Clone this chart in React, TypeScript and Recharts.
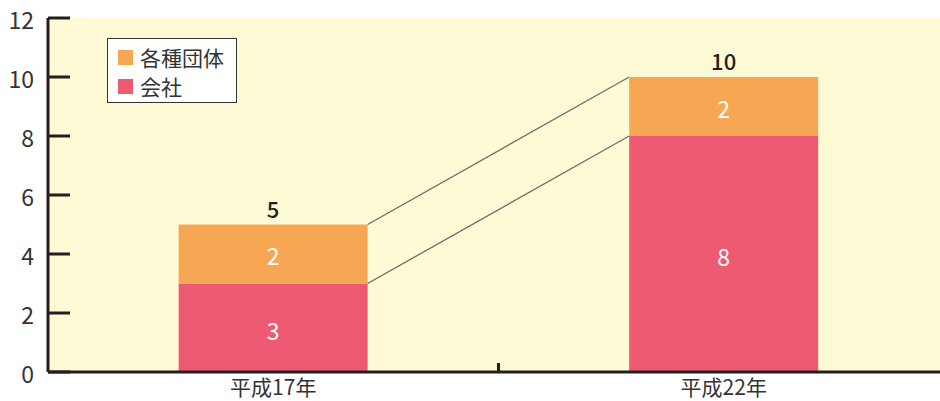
import React from 'react';
import { BarChart, Bar, XAxis, YAxis, CartesianGrid, Legend, LabelList } from 'recharts';

const years = ['平成17年', '平成22年'];
const companies = [3, 8];
const groups = [2, 2];
const totals = [5, 10];
const yTicks = [0, 2, 4, 6, 8, 10, 12];

const CHART_W = 949;
const CHART_H = 401;
const Y_AXIS_W = 48;
const FONT = '"Noto Sans CJK JP", "Noto Sans", sans-serif';
const INK = '#231f20';
const PINK = '#ef5a73';
const ORANGE = '#f7a754';

const data = years.map((year, i) => ({
  year,
  company: companies[i],
  group: groups[i],
  total: totals[i],
}));

// remember each bar's rect so the next bar can draw a connector back to it
const rects: Record<string, { x: number; y: number; w: number }[]> = {};
const makeShape = (key: string, fill: string) => (props: any) => {
  const { x, y, width, height, index } = props;
  const list = (rects[key] = rects[key] || []);
  list[index] = { x, y, w: width };
  const prev = index > 0 ? list[index - 1] : null;
  return (
    <g>
      <rect x={x} y={y} width={width} height={height} fill={fill} />
      {prev && (
        <line x1={prev.x + prev.w} y1={prev.y} x2={x} y2={y} stroke="#6b6b6b" strokeWidth={1.3} />
      )}
    </g>
  );
};

const YTick = (props: any) => {
  const { x, y, payload } = props;
  return (
    <g>
      <line x1={x} y1={y} x2={x + 22} y2={y} stroke={INK} strokeWidth={3} />
      <text x={x - 14} y={y + 1} textAnchor="end" dominantBaseline="central" fontSize={23} fill="#333" fontFamily={FONT}>
        {payload.value}
      </text>
    </g>
  );
};

const XTick = (props: any) => {
  const { x, y, payload, index } = props;
  const band = (CHART_W - Y_AXIS_W) / years.length;
  return (
    <g>
      {index < years.length - 1 && (
        <line x1={x + band / 2} y1={y - 9} x2={x + band / 2} y2={y} stroke={INK} strokeWidth={3} />
      )}
      <text x={x} y={y + 14} textAnchor="middle" dominantBaseline="central" fontSize={21} fill="#333" fontFamily={FONT}>
        {payload.value}
      </text>
    </g>
  );
};

const LegendBox = () => (
  <div
    style={{
      width: 130,
      height: 65,
      boxSizing: 'border-box',
      border: '1px solid #333',
      background: '#fff',
      padding: '4px 0 0 10px',
      fontFamily: FONT,
      fontSize: 21,
      color: '#333',
      lineHeight: '29px',
    }}
  >
    {[
      { name: '各種団体', color: ORANGE },
      { name: '会社', color: PINK },
    ].map((item) => (
      <div key={item.name} style={{ display: 'flex', alignItems: 'center' }}>
        <span style={{ width: 15, height: 15, background: item.color, marginRight: 7, display: 'inline-block' }} />
        {item.name}
      </div>
    ))}
  </div>
);

export default function App() {
  return (
    <div style={{ position: 'absolute', left: 0, top: 0, width: 940, height: CHART_H, overflow: 'hidden' }}>
      <BarChart
        width={CHART_W}
        height={CHART_H}
        data={data}
        margin={{ top: 18, right: 0, bottom: 0, left: 0 }}
        barCategoryGap="29%"
      >
        <CartesianGrid horizontal={false} vertical={false} fill="#fffad6" />
        <XAxis
          dataKey="year"
          height={29}
          axisLine={{ stroke: INK, strokeWidth: 3 }}
          tickLine={false}
          tickSize={0}
          tickMargin={0}
          tick={<XTick />}
          interval={0}
        />
        <YAxis
          width={Y_AXIS_W}
          domain={[0, 12]}
          ticks={yTicks}
          axisLine={{ stroke: INK, strokeWidth: 3 }}
          tickLine={false}
          tickSize={0}
          tickMargin={0}
          tick={<YTick />}
          interval={0}
        />
        <Legend
          layout="vertical"
          align="center"
          verticalAlign="middle"
          content={<LegendBox />}
          wrapperStyle={{ position: 'absolute', left: 107, top: 38, width: 130, height: 65 }}
        />
        <Bar dataKey="company" stackId="a" fill={PINK} shape={makeShape('company', PINK)} isAnimationActive={false}>
          <LabelList dataKey="company" position="center" dy={4} fill="#fff" fontSize={23} fontFamily={FONT} />
        </Bar>
        <Bar dataKey="group" stackId="a" fill={ORANGE} shape={makeShape('group', ORANGE)} isAnimationActive={false}>
          <LabelList dataKey="group" position="center" dy={3} fill="#fff" fontSize={23} fontFamily={FONT} />
          <LabelList dataKey="total" position="top" offset={7} fill={INK} fontSize={22} fontWeight={500} fontFamily={FONT} />
        </Bar>
      </BarChart>
    </div>
  );
}
